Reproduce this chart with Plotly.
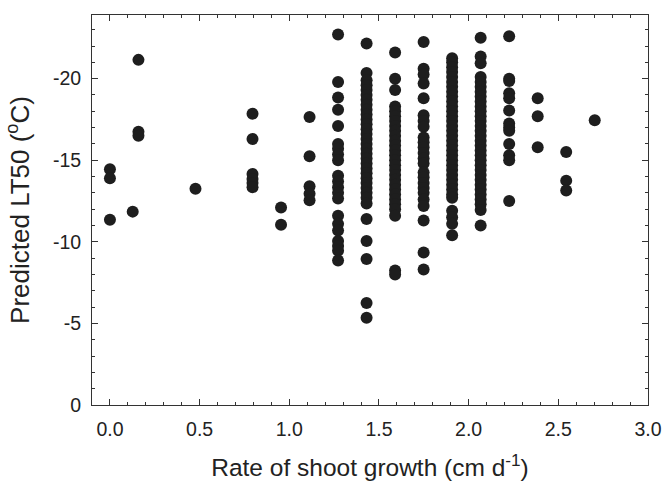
import plotly.graph_objects as go

# predicted LT50 (degC) by shoot growth rate (cm/d), read column by column
X_COLS = [0.0, 0.127, 0.159, 0.477, 0.795, 0.954, 1.113, 1.272, 1.431, 1.59,
          1.749, 1.908, 2.067, 2.226, 2.385, 2.544, 2.703]

LT50_000 = [-14.45, -13.9, -11.35]
LT50_013 = [-11.85]
LT50_016 = [-21.15, -16.75, -16.5]
LT50_048 = [-13.25]
LT50_080 = [-17.85, -16.3, -14.15, -13.85, -13.6, -13.35]
LT50_095 = [-12.1, -11.05]
LT50_111 = [-17.65, -15.25, -13.4, -12.95, -12.55]
LT50_127 = [-22.7, -19.8, -18.85, -18.1, -17.1, -16.0, -15.7, -15.35, -15.0,
            -14.05, -13.7, -13.35, -13.0, -12.65, -11.6, -11.1, -10.7, -10.05,
            -9.75, -9.45, -8.85]
LT50_143 = [-22.15, -20.35, -19.9, -19.6, -19.3, -19.0, -18.7, -18.4, -18.1,
            -17.8, -17.5, -17.2, -16.9, -16.6, -16.3, -16.0, -15.7, -15.4,
            -15.1, -14.8, -14.5, -14.2, -13.9, -13.6, -13.3, -13.0, -12.7,
            -12.35, -11.4, -10.05, -8.95, -6.25, -5.35]
LT50_159 = [-21.6, -20.0, -19.3, -18.3, -18.0, -17.7, -17.4, -17.1, -16.8,
            -16.5, -16.2, -15.9, -15.6, -15.3, -15.0, -14.7, -14.4, -14.1,
            -13.8, -13.5, -13.2, -12.9, -12.6, -12.3, -12.0, -11.6, -8.25, -8.0]
LT50_175 = [-22.25, -20.6, -20.25, -19.7, -18.8, -17.75, -17.4, -17.05, -16.4,
            -16.1, -15.8, -15.45, -15.1, -14.8, -14.25, -13.95, -13.6, -13.3,
            -13.0, -12.6, -12.2, -11.3, -9.35, -8.3]
LT50_191 = [-21.25, -21.0, -20.7, -20.4, -20.1, -19.8, -19.5, -19.2, -18.9,
            -18.6, -18.3, -18.0, -17.7, -17.4, -17.1, -16.8, -16.5, -16.2,
            -15.9, -15.6, -15.3, -15.0, -14.7, -14.4, -14.1, -13.8, -13.5,
            -13.2, -12.9, -12.7, -11.9, -11.5, -11.1, -10.4]
LT50_207 = [-22.5, -21.35, -20.95, -20.1, -19.8, -19.5, -19.2, -18.9, -18.6,
            -18.3, -18.0, -17.7, -17.4, -17.1, -16.8, -16.5, -16.2, -15.9,
            -15.6, -15.3, -15.0, -14.7, -14.4, -14.1, -13.8, -13.5, -13.2,
            -12.9, -12.6, -12.3, -11.95, -11.0]
LT50_223 = [-22.6, -20.0, -19.85, -19.1, -18.8, -18.05, -17.25, -17.0, -16.8,
            -16.0, -15.3, -15.0, -12.5]
LT50_239 = [-18.8, -17.7, -15.8]
LT50_254 = [-15.5, -13.75, -13.15]
LT50_270 = [-17.45]

Y_COLS = [LT50_000, LT50_013, LT50_016, LT50_048, LT50_080, LT50_095, LT50_111,
          LT50_127, LT50_143, LT50_159, LT50_175, LT50_191, LT50_207, LT50_223,
          LT50_239, LT50_254, LT50_270]

Y_TICKS = [0, -5, -10, -15, -20]
X_TICKS = [0.0, 0.5, 1.0, 1.5, 2.0, 2.5, 3.0]

xs, ys = [], []
for xv, col in zip(X_COLS, Y_COLS):
    xs += [xv] * len(col)
    ys += col

FONT = "Liberation Sans, Arial, sans-serif"
AXIS = "#333333"
TXT = "#222222"

fig = go.Figure(go.Scatter(
    x=xs, y=ys, mode="markers",
    marker=dict(size=12, color="#1e1e1e", line=dict(width=0)),
    showlegend=False,
))

fig.update_xaxes(
    range=[-0.1, 3.0], showgrid=False, zeroline=False, automargin=False,
    showline=True, linecolor=AXIS, linewidth=1, mirror="allticks",
    ticks="inside", ticklen=6, tickcolor=AXIS, ticklabelstandoff=7,
    tickvals=X_TICKS, ticktext=[f"{v:.1f}" for v in X_TICKS],
    minor=dict(ticks="inside", dtick=0.1, ticklen=3, tickcolor=AXIS, showgrid=False),
    tickfont=dict(family=FONT, size=19.5, color=TXT),
    title=dict(text="Rate of shoot growth (cm d<sup>-1</sup>)",
               font=dict(family=FONT, size=24.5, color=TXT), standoff=19),
)
fig.update_yaxes(
    range=[0, -23.9], showgrid=False, zeroline=False, automargin=False,
    showline=True, linecolor=AXIS, linewidth=1, mirror="allticks",
    ticks="inside", ticklen=6, tickcolor=AXIS, ticklabelstandoff=6,
    tickvals=Y_TICKS, ticktext=[str(v) for v in Y_TICKS],
    minor=dict(ticks="inside", dtick=1, ticklen=3, tickcolor=AXIS, showgrid=False),
    tickfont=dict(family=FONT, size=19.5, color=TXT),
    title=dict(text="Predicted LT50 (<sup>o</sup>C)",
               font=dict(family=FONT, size=26, color=TXT), standoff=15),
)
fig.update_layout(
    width=665, height=483,
    margin=dict(l=92, r=17, t=15, b=78),
    plot_bgcolor="white", paper_bgcolor="white",
)

# the page body has a default 8px margin; drop it so the figure fills the window
fig.write_html("out.html", config={"displayModeBar": False},
               post_script="document.body.style.margin='0';")
